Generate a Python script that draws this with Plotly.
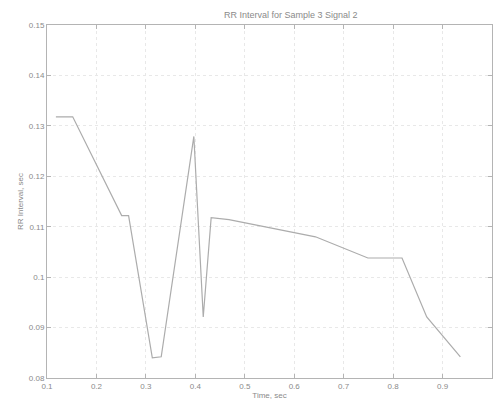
import plotly.graph_objects as go

time_sec = [0.118, 0.152, 0.251, 0.265, 0.313, 0.331, 0.397, 0.416, 0.432, 0.468, 0.643, 0.749, 0.818, 0.868, 0.936]
rr_sec = [0.1318, 0.1318, 0.1122, 0.1122, 0.0840, 0.0842, 0.1279, 0.0921, 0.1118, 0.1114, 0.1080, 0.1038, 0.1038, 0.0921, 0.0842]

x_ticks = [0.1, 0.2, 0.3, 0.4, 0.5, 0.6, 0.7, 0.8, 0.9, 1.0]
x_ticktext = ["0.1", "0.2", "0.3", "0.4", "0.5", "0.6", "0.7", "0.8", "0.9", "1"]
y_ticks = [0.08, 0.09, 0.10, 0.11, 0.12, 0.13, 0.14, 0.15]
y_ticktext = ["0.08", "0.09", "0.1", "0.11", "0.12", "0.13", "0.14", "0.15"]

text_color = "#8a8a8a"
axis_color = "#b4b4b4"
grid_color = "#e8e8e8"
font_family = "Liberation Sans, Arial"

fig = go.Figure()
fig.add_trace(go.Scatter(
    x=time_sec, y=rr_sec, mode="lines",
    line=dict(color="#acacac", width=1.2),
    showlegend=False,
))

axis_common = dict(
    showline=True, linecolor=axis_color, linewidth=1, mirror="ticks",
    ticks="inside", ticklen=4, tickcolor=axis_color,
    showgrid=True, gridcolor=grid_color, griddash="dot", gridwidth=1,
    zeroline=False, automargin=False,
    tickfont=dict(size=8, color=text_color, family=font_family),
)

fig.update_layout(
    width=493, height=409,
    margin=dict(l=47, r=1, t=25, b=31),
    paper_bgcolor="white", plot_bgcolor="white",
    title=dict(text="RR Interval for Sample 3 Signal 2", xref="paper", x=0.548, xanchor="center",
               y=0.963, yanchor="middle",
               font=dict(size=9, color=text_color, family=font_family)),
    xaxis=dict(range=[0.1, 1.0], tickvals=x_ticks, ticktext=x_ticktext,
               title=dict(text="Time, sec", standoff=2,
                          font=dict(size=8, color=text_color, family=font_family)),
               **axis_common),
    yaxis=dict(range=[0.08, 0.15], tickvals=y_ticks, ticktext=y_ticktext,
               title=dict(text="RR Interval, sec", standoff=4,
                          font=dict(size=8, color=text_color, family=font_family)),
               **axis_common),
)

fig.write_html("out.html",
               config={"displayModeBar": False},
               post_script="document.body.style.margin='0';document.body.style.padding='0';")
